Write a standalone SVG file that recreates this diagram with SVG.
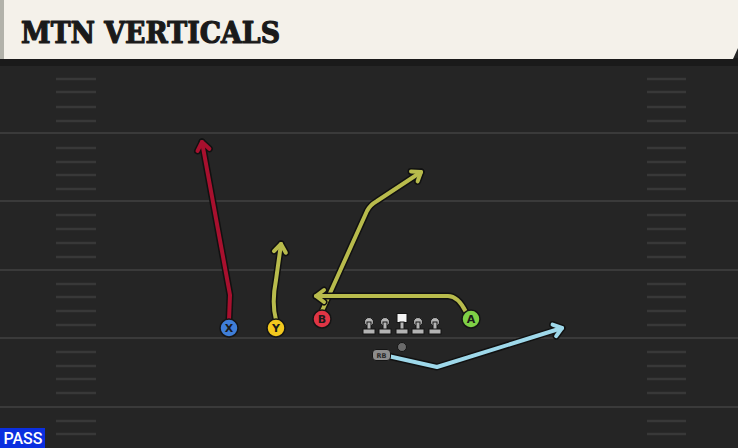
<svg xmlns="http://www.w3.org/2000/svg" width="738" height="448" viewBox="0 0 738 448">
<style>
.yard{stroke:#3a3a3a;stroke-width:2}
.hash{stroke:#383838;stroke-width:2.5}
.out{fill:none;stroke:#111;stroke-width:7;stroke-linecap:round;stroke-linejoin:round}
.rt{fill:none;stroke-width:4;stroke-linecap:round;stroke-linejoin:round}
.lbl{font-family:"DejaVu Sans","Liberation Sans",sans-serif;font-weight:bold;font-size:11px;fill:#1a1a1a;text-anchor:middle}
.pc{stroke:#151515;stroke-width:1.5}
.ol{fill:#b4b4b4;stroke:#151515;stroke-width:1}
</style>
<defs>
<marker id="aD" markerUnits="userSpaceOnUse" viewBox="-14 -10 20 20" refX="0" refY="0" markerWidth="20" markerHeight="20" orient="auto" overflow="visible"><path d="M-8,-6 L0,0 L-8,6" fill="none" stroke="#111" stroke-width="7" stroke-linecap="round" stroke-linejoin="round"/></marker>
<marker id="aR" markerUnits="userSpaceOnUse" viewBox="-14 -10 20 20" refX="0" refY="0" markerWidth="20" markerHeight="20" orient="auto" overflow="visible"><path d="M-8,-6 L0,0 L-8,6" fill="none" stroke="#a8102e" stroke-width="4" stroke-linecap="round" stroke-linejoin="round"/></marker>
<marker id="aY" markerUnits="userSpaceOnUse" viewBox="-14 -10 20 20" refX="0" refY="0" markerWidth="20" markerHeight="20" orient="auto" overflow="visible"><path d="M-8,-6 L0,0 L-8,6" fill="none" stroke="#b8bb4c" stroke-width="4" stroke-linecap="round" stroke-linejoin="round"/></marker>
<marker id="aB" markerUnits="userSpaceOnUse" viewBox="-14 -10 20 20" refX="0" refY="0" markerWidth="20" markerHeight="20" orient="auto" overflow="visible"><path d="M-8,-6 L0,0 L-8,6" fill="none" stroke="#9ed8ea" stroke-width="4" stroke-linecap="round" stroke-linejoin="round"/></marker>
</defs>

<!-- field -->
<rect x="0" y="0" width="738" height="448" fill="#252525"/>
<rect x="0" y="58" width="738" height="8" fill="#1a1a1a"/>
<g id="field">
<line class="yard" x1="0" y1="133" x2="738" y2="133"/>
<line class="yard" x1="0" y1="201" x2="738" y2="201"/>
<line class="yard" x1="0" y1="270" x2="738" y2="270"/>
<line class="yard" x1="0" y1="338" x2="738" y2="338"/>
<line class="yard" x1="0" y1="407" x2="738" y2="407"/>
<g class="hash">
<path d="M56,79H96M56,92H96M56,107H96M56,121H96M56,148H96M56,162H96M56,175H96M56,189H96M56,215H96M56,229H96M56,243H96M56,257H96M56,284H96M56,297H96M56,311H96M56,325H96M56,352H96M56,366H96M56,379H96M56,393H96M56,421H96M56,434H96"/>
<path d="M647,79H686M647,92H686M647,107H686M647,121H686M647,148H686M647,162H686M647,175H686M647,189H686M647,215H686M647,229H686M647,243H686M647,257H686M647,284H686M647,297H686M647,311H686M647,325H686M647,352H686M647,366H686M647,379H686M647,393H686M647,421H686M647,434H686"/>
</g>
</g>

<!-- header -->
<g id="header">
<path d="M0,0 H738 V48 L733,59 H0 Z" fill="#f4f1ea"/>
<rect x="0" y="0" width="4" height="59" fill="#b2b2aa"/>
<text x="21" y="43" font-family="'DejaVu Serif','Liberation Serif',serif" font-weight="bold" font-size="29" textLength="259" lengthAdjust="spacingAndGlyphs" fill="#1a1a1a" stroke="#1a1a1a" stroke-width="1.2" stroke-linejoin="round">MTN VERTICALS</text>
</g>

<!-- routes -->
<g id="connectors">
<path class="out" marker-end="url(#aD)" d="M229,320 L230,295 L202,142"/>
<path class="rt" stroke="#a8102e" marker-end="url(#aR)" d="M229,320 L230,295 L202,142"/>
<path class="out" marker-end="url(#aD)" d="M276,320 C272,305 274,290 276,280 L281,244"/>
<path class="rt" stroke="#b8bb4c" marker-end="url(#aY)" d="M276,320 C272,305 274,290 276,280 L281,244"/>
<path class="out" marker-end="url(#aD)" d="M322,311 L367,211 Q370,205 377,201 L421,172"/>
<path class="rt" stroke="#b8bb4c" marker-end="url(#aY)" d="M322,311 L367,211 Q370,205 377,201 L421,172"/>
<path class="out" marker-end="url(#aD)" d="M466,312 Q458,296 448,296 L316,296"/>
<path class="rt" stroke="#b8bb4c" marker-end="url(#aY)" d="M466,312 Q458,296 448,296 L316,296"/>
<path class="out" marker-end="url(#aD)" d="M388,356 L437,367 L562,328"/>
<path class="rt" stroke="#9ed8ea" marker-end="url(#aB)" d="M388,356 L437,367 L562,328"/>
</g>

<!-- players -->
<g id="X"><circle class="pc" cx="229" cy="328" r="9" fill="#3f7ed8"/><text class="lbl" x="229" y="332">X</text></g>
<g id="Y"><circle class="pc" cx="276" cy="328" r="9" fill="#f2c81e"/><text class="lbl" x="276" y="332">Y</text></g>
<g id="B"><circle class="pc" cx="322" cy="319" r="9" fill="#e03545"/><text class="lbl" x="322" y="323">B</text></g>
<g id="A"><circle class="pc" cx="471" cy="319" r="9" fill="#7fd046"/><text class="lbl" x="471" y="323">A</text></g>

<g id="OL">
<g id="LT"><circle class="ol" cx="369" cy="322" r="4.5"/><rect class="ol" x="367" y="322" width="4" height="8"/><rect class="ol" x="363" y="329" width="12" height="5"/></g>
<g id="LG"><circle class="ol" cx="385" cy="322" r="4.5"/><rect class="ol" x="383" y="322" width="4" height="8"/><rect class="ol" x="379" y="329" width="12" height="5"/></g>
<g id="C"><rect x="397" y="313.5" width="10" height="9" fill="#f4f4f4" stroke="#151515" stroke-width="1"/><rect class="ol" x="400" y="322" width="4" height="8"/><rect class="ol" x="396" y="329" width="12" height="5"/></g>
<g id="RG"><circle class="ol" cx="418" cy="322" r="4.5"/><rect class="ol" x="416" y="322" width="4" height="8"/><rect class="ol" x="412" y="329" width="12" height="5"/></g>
<g id="RT"><circle class="ol" cx="435" cy="322" r="4.5"/><rect class="ol" x="433" y="322" width="4" height="8"/><rect class="ol" x="429" y="329" width="12" height="5"/></g>
</g>
<g id="QB"><circle cx="402" cy="347" r="4.5" fill="#6a6a6a" stroke="#151515" stroke-width="1"/></g>
<g id="RB"><rect x="372.5" y="349.5" width="18" height="11" rx="3.5" fill="#8c8c8c" stroke="#151515" stroke-width="1"/><text x="381.5" y="358" font-family="'DejaVu Sans','Liberation Sans',sans-serif" font-weight="bold" font-size="6.5" fill="#2a2a2a" text-anchor="middle">RB</text></g>

<!-- PASS tag -->
<g id="pass"><rect x="0" y="428" width="45" height="20" fill="#0b2fe0"/><text x="23" y="444" font-family="'Roboto','Liberation Sans',sans-serif" font-weight="500" font-size="16" fill="#ffffff" text-anchor="middle">PASS</text></g>
</svg>
